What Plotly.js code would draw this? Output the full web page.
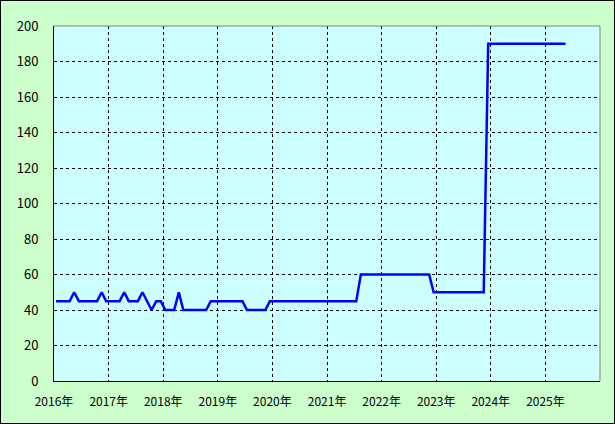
<!DOCTYPE html>
<html>
<head>
<meta charset="utf-8">
<script src="https://cdn.plot.ly/plotly-3.0.1.min.js"></script>
<style>
html,body{margin:0;padding:0;background:#ccffcc;}
#wrap{position:relative;width:615px;height:424px;}
#chart{width:615px;height:424px;}
#frame{position:absolute;left:0;top:0;width:613px;height:422px;border:1px solid #000;pointer-events:none;}
</style>
</head>
<body>
<div id="wrap"><div id="chart"></div><div id="frame"></div></div>
<script>
// Monthly observations (plotted mid-month)
const months = [
 "2016-01-15","2016-02-15","2016-03-15","2016-04-15","2016-05-15","2016-06-15","2016-07-15","2016-08-15","2016-09-15","2016-10-15","2016-11-15","2016-12-15",
 "2017-01-15","2017-02-15","2017-03-15","2017-04-15","2017-05-15","2017-06-15","2017-07-15","2017-08-15","2017-09-15","2017-10-15","2017-11-15","2017-12-15",
 "2018-01-15","2018-02-15","2018-03-15","2018-04-15","2018-05-15","2018-06-15","2018-07-15","2018-08-15","2018-09-15","2018-10-15","2018-11-15","2018-12-15",
 "2019-01-15","2019-02-15","2019-03-15","2019-04-15","2019-05-15","2019-06-15","2019-07-15","2019-08-15","2019-09-15","2019-10-15","2019-11-15","2019-12-15",
 "2020-01-15","2020-02-15","2020-03-15","2020-04-15","2020-05-15","2020-06-15","2020-07-15","2020-08-15","2020-09-15","2020-10-15","2020-11-15","2020-12-15",
 "2021-01-15","2021-02-15","2021-03-15","2021-04-15","2021-05-15","2021-06-15","2021-07-15","2021-08-15","2021-09-15","2021-10-15","2021-11-15","2021-12-15",
 "2022-01-15","2022-02-15","2022-03-15","2022-04-15","2022-05-15","2022-06-15","2022-07-15","2022-08-15","2022-09-15","2022-10-15","2022-11-15","2022-12-15",
 "2023-01-15","2023-02-15","2023-03-15","2023-04-15","2023-05-15","2023-06-15","2023-07-15","2023-08-15","2023-09-15","2023-10-15","2023-11-15","2023-12-15",
 "2024-01-15","2024-02-15","2024-03-15","2024-04-15","2024-05-15","2024-06-15","2024-07-15","2024-08-15","2024-09-15","2024-10-15","2024-11-15","2024-12-15",
 "2025-01-15","2025-02-15","2025-03-15","2025-04-15","2025-05-15"
];
const values = [
 45,45,45,45,50,45,45,45,45,45,50,45,
 45,45,45,50,45,45,45,50,45,40,45,45,
 40,40,40,50,40,40,40,40,40,40,45,45,
 45,45,45,45,45,45,40,40,40,40,40,45,
 45,45,45,45,45,45,45,45,45,45,45,45,
 45,45,45,45,45,45,45,60,60,60,60,60,
 60,60,60,60,60,60,60,60,60,60,60,50,
 50,50,50,50,50,50,50,50,50,50,50,190,
 190,190,190,190,190,190,190,190,190,190,190,190,
 190,190,190,190,190
];
const yTicks = [0,20,40,60,80,100,120,140,160,180,200];
const xTickVals = ["2016-01-01","2017-01-01","2018-01-01","2019-01-01","2020-01-01","2021-01-01","2022-01-01","2023-01-01","2024-01-01","2025-01-01"];
const xTickText = ["2016年","2017年","2018年","2019年","2020年","2021年","2022年","2023年","2024年","2025年"];

const trace = {
  x: months, y: values, type: 'scatter', mode: 'lines',
  line: {color: '#0000ff', width: 2.5}, hoverinfo: 'skip'
};
const fontFam = '"Noto Sans CJK JP", "DejaVu Sans", sans-serif';
const layout = {
  width: 615, height: 424,
  margin: {l: 54, r: 15, t: 26, b: 43, pad: 0},
  paper_bgcolor: '#ccffcc', plot_bgcolor: '#ccffff',
  showlegend: false,
  font: {family: fontFam, size: 12, color: '#000'},
  xaxis: {
    type: 'date', range: ['2016-01-01','2026-01-01'],
    tickmode: 'array', tickvals: xTickVals, ticktext: xTickText,
    showgrid: true, gridcolor: '#000', gridwidth: 1, griddash: '3px,3px',
    showline: true, linecolor: '#000', linewidth: 1,
    ticks: '', ticklabelstandoff: 10, zeroline: false,
    tickfont: {family: fontFam, size: 12, color: '#000'}
  },
  yaxis: {
    range: [0, 200], tickmode: 'array', tickvals: yTicks,
    showgrid: true, gridcolor: '#000', gridwidth: 1, griddash: '3px,3px',
    showline: true, linecolor: '#000', linewidth: 1,
    ticks: '', ticklabelstandoff: 12, zeroline: false,
    tickfont: {family: fontFam, size: 13, color: '#000'}
  },
  shapes: [
    {type: 'line', xref: 'paper', yref: 'paper', x0: 0, x1: 1, y0: 1, y1: 1, line: {color: '#808080', width: 1}},
    {type: 'line', xref: 'paper', yref: 'paper', x0: 1, x1: 1, y0: 0, y1: 1, line: {color: '#808080', width: 1}}
  ]
};
Plotly.newPlot('chart', [trace], layout, {staticPlot: true, displayModeBar: false});
</script>
</body>
</html>
